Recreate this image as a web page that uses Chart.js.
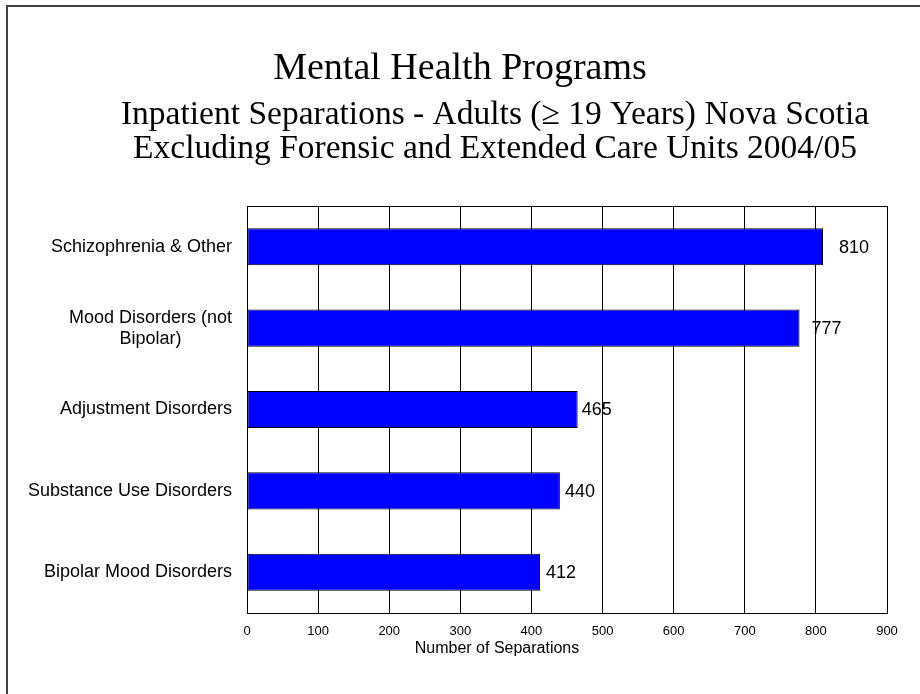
<!DOCTYPE html>
<html>
<head>
<meta charset="utf-8">
<script src="https://cdn.jsdelivr.net/npm/chart.js@4"></script>
<style>
  html, body { margin: 0; padding: 0; background: #fff; }
  #wrap { position: relative; width: 920px; height: 694px; overflow: hidden; }
  #frame { position: absolute; left: 6px; top: 5px; width: 1000px; height: 800px;
           border-top: 2px solid #404040; border-left: 2px solid #404040; }
  canvas { position: absolute; left: 0; top: 0; }
</style>
</head>
<body>
<div id="wrap">
  <div id="frame"></div>
  <canvas id="chart" width="920" height="694"></canvas>
</div>
<script>
// chart data
const titleText = 'Mental Health Programs';
const subtitleLines = [
  'Inpatient Separations - Adults (\u2265 19 Years) Nova Scotia',
  'Excluding Forensic and Extended Care Units 2004/05'
];
const categories = [
  ['Schizophrenia & Other'],
  ['Mood Disorders (not', 'Bipolar)'],
  ['Adjustment Disorders'],
  ['Substance Use Disorders'],
  ['Bipolar Mood Disorders']
];
const separations = [810, 777, 465, 440, 412];
const xTicks = [0, 100, 200, 300, 400, 500, 600, 700, 800, 900];
const axisTitle = 'Number of Separations';

// draws the slide titles, category labels, value labels and the plot frame
const slideText = {
  id: 'slideText',
  beforeDatasetsDraw(chart) {
    const { ctx, chartArea: a } = chart;
    ctx.save();
    ctx.strokeStyle = '#000';
    ctx.lineWidth = 1;
    ctx.strokeRect(Math.round(a.left) + 0.5, Math.round(a.top) + 0.5,
      Math.round(a.right - a.left), Math.round(a.bottom - a.top));
    ctx.restore();
  },
  afterDraw(chart, args, opts) {
    const { ctx, chartArea: a } = chart;
    const xs = chart.scales.x, ys = chart.scales.y;
    ctx.save();
    ctx.fillStyle = '#000';

    // slide title
    ctx.textAlign = 'center';
    ctx.textBaseline = 'alphabetic';
    ctx.font = '38px "Liberation Serif"';
    ctx.fillText(titleText, opts.titleX, 79);
    ctx.font = '33.5px "Liberation Serif"';
    subtitleLines.forEach((t, i) => ctx.fillText(t, opts.subtitleX, 124 + i * 34));

    // category labels, block right aligned, lines centred
    ctx.font = '18px "Liberation Sans"';
    ctx.textBaseline = 'middle';
    categories.forEach((lines, i) => {
      const cy = ys.getPixelForValue(i);
      const w = Math.max(...lines.map(l => ctx.measureText(l).width));
      const right = a.left - 15;
      lines.forEach((l, j) => {
        ctx.fillText(l, right - w / 2, cy + (j - (lines.length - 1) / 2) * 21);
      });
    });

    // value labels at bar ends
    ctx.textAlign = 'left';
    separations.forEach((v, i) => {
      ctx.fillText(String(v), xs.getPixelForValue(v) + opts.labelGap[i], ys.getPixelForValue(i) + 1);
    });

    // x axis title
    ctx.font = '16px "Liberation Sans"';
    ctx.textAlign = 'center';
    ctx.fillText(axisTitle, opts.axisTitleX, 649);
    ctx.restore();
  }
};

new Chart(document.getElementById('chart'), {
  type: 'bar',
  data: {
    labels: categories.map(c => c.join(' ')),
    datasets: [{
      data: separations,
      backgroundColor: '#0000FF',
      borderColor: '#000',
      borderWidth: 1,
      borderSkipped: false,
      barPercentage: 0.456,
      categoryPercentage: 1
    }]
  },
  options: {
    indexAxis: 'y',
    responsive: false,
    animation: false,
    devicePixelRatio: 1,
    layout: { padding: { left: 0, right: 33, top: 206, bottom: 0 } },
    plugins: {
      legend: { display: false },
      tooltip: { enabled: false },
      slideText: { titleX: 460, subtitleX: 495, axisTitleX: 497, labelGap: [16, 12, 4, 5, 6] }
    },
    scales: {
      x: {
        min: 0,
        max: 900,
        afterBuildTicks: s => { s.ticks = xTicks.map(v => ({ value: v })); },
        afterFit: s => { s.height = 81; },
        ticks: {
          color: '#000',
          font: { family: 'Liberation Sans', size: 13 },
          padding: 11,
          maxRotation: 0
        },
        grid: { color: '#000', lineWidth: 1, drawTicks: false },
        border: { display: false }
      },
      y: {
        afterFit: s => { s.width = 247; },
        ticks: { display: false },
        grid: { display: false, drawTicks: false },
        border: { display: false }
      }
    }
  },
  plugins: [slideText]
});
</script>
</body>
</html>
